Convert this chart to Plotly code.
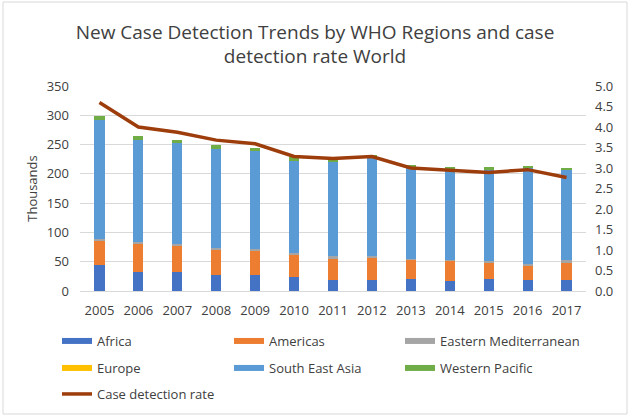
import plotly.graph_objects as go

years = ["2005", "2006", "2007", "2008", "2009", "2010", "2011", "2012", "2013", "2014", "2015", "2016", "2017"]

# thousands of new cases (stack components)
africa = [44, 33, 33, 28, 28, 23.5, 19.5, 19.5, 20, 17, 20, 18.5, 19]
americas = [43, 48, 43.5, 43.5, 40.5, 38.5, 35.5, 36.5, 33, 35, 29.5, 25.5, 29.5]
eastern_med = [2.5, 3, 3.5, 2.5, 3.5, 3, 5.5, 3.5, 1.5, 1.5, 2, 2, 4]
europe = [0, 0, 0, 0, 0, 0, 0, 0, 0, 0, 0, 0, 0]
south_east_asia = [202, 174.5, 172.5, 168.5, 167, 157.5, 160.5, 168.5, 157.5, 155, 155.5, 164, 153.5]
western_pacific = [7, 6.5, 5, 6.5, 4.5, 5.5, 4, 4, 3.5, 4, 4.5, 4, 4]

# case detection rate (right axis)
case_detection_rate = [4.6, 4.0, 3.87, 3.68, 3.59, 3.28, 3.23, 3.28, 3.0, 2.95, 2.89, 2.96, 2.77]

left_ticks = [0, 50, 100, 150, 200, 250, 300, 350]
right_ticks = [0.0, 0.5, 1.0, 1.5, 2.0, 2.5, 3.0, 3.5, 4.0, 4.5, 5.0]

series = [
    ("Africa", africa, "#4472C4"),
    ("Americas", americas, "#ED7D31"),
    ("Eastern Mediterranean", eastern_med, "#A5A5A5"),
    ("Europe", europe, "#FFC000"),
    ("South East Asia", south_east_asia, "#5B9BD5"),
    ("Western Pacific", western_pacific, "#70AD47"),
]

PL, PR, PT, PB = 80, 586, 86, 291  # plot area in px
pw, ph = PR - PL, PB - PT


def px_x(x):
    return (x - PL) / pw


def px_y(y):
    return (PB - y) / ph


# legend slots (swatch left x, row centre y) in px
legend_cols = [63, 235, 406]
legend_rows = [341, 368, 394]

fig = go.Figure()
for i, (name, vals, col) in enumerate(series):
    lg = "legend" if i == 0 else f"legend{i + 1}"
    fig.add_trace(go.Bar(x=years, y=vals, name=name, marker=dict(color=col, line=dict(width=0)),
                         yaxis="y", showlegend=False, legendgroup=name))
    # legend entry drawn as a wide swatch
    fig.add_trace(go.Scatter(x=[None], y=[None], name=name, mode="lines", legendgroup=name,
                             line=dict(color=col, width=6), legend=lg, hoverinfo="skip"))

fig.add_trace(go.Scatter(x=years, y=case_detection_rate, name="Case detection rate", mode="lines",
                         line=dict(color="#9E3D0C", width=3.5), yaxis="y2", legend="legend7"))

font_family = "Open Sans, Noto Sans, sans-serif"
tick_font = dict(size=13, color="#404040")

legend_common = dict(orientation="h", xanchor="left", yanchor="middle",
                     font=dict(size=13, color="#404040"), itemwidth=30,
                     bgcolor="rgba(0,0,0,0)")

legends = {}
for i in range(7):
    key = "legend" if i == 0 else f"legend{i + 1}"
    r, c = divmod(i, 3)
    legends[key] = dict(x=px_x(legend_cols[c] - 6), y=px_y(legend_rows[r]), **legend_common)

fig.update_layout(
    width=630, height=417,
    margin=dict(l=PL, r=630 - PR, t=PT, b=417 - PB, autoexpand=False),
    paper_bgcolor="white", plot_bgcolor="white",
    barmode="stack", bargap=0.74,
    font=dict(family=font_family, size=13, color="#595959"),
    title=dict(text="New Case Detection Trends by WHO Regions and case<br>detection rate World",
               x=0.5, xanchor="center", y=0.907, yanchor="top",
               font=dict(size=19, color="#404040", family=font_family)),
    xaxis=dict(type="category", showgrid=False, showline=True, linecolor="#d9d9d9",
               ticks="", tickfont=tick_font, ticklabelstandoff=7),
    yaxis=dict(range=[0, 350], tickvals=left_ticks, showgrid=True, gridcolor="#d9d9d9",
               zeroline=False, ticks="", tickfont=tick_font, ticklabelstandoff=10,
               title=dict(text="Thousands", font=dict(size=13, color="#404040"), standoff=6)),
    yaxis2=dict(range=[0, 5.0], tickvals=right_ticks, tickformat=".1f", overlaying="y", side="right",
                showgrid=False, zeroline=False, ticks="", tickfont=tick_font, ticklabelstandoff=8),
    showlegend=True,
    **legends,
)

fig.add_shape(type="rect", xref="paper", yref="paper",
              x0=px_x(3), x1=px_x(627), y0=px_y(414), y1=px_y(2),
              line=dict(color="#d9d9d9", width=1), fillcolor="rgba(0,0,0,0)", layer="below")

fig.write_html("out.html", config={"displayModeBar": False},
               post_script="document.body.style.margin='0';")
